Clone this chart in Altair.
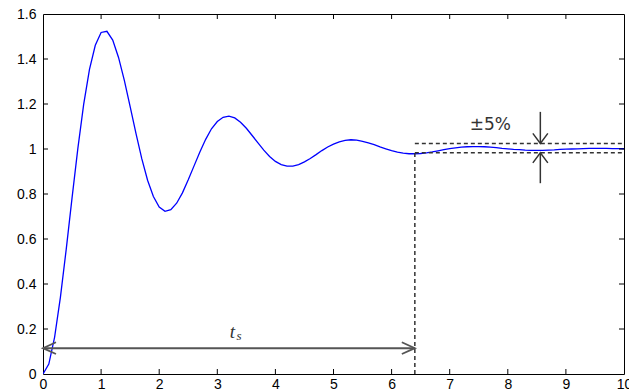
import altair as alt
import pandas as pd

# Step response of an under-damped second-order system
t_vals = [round(0.1 * i, 1) for i in range(101)]
y_vals = [
    0.000, 0.044, 0.164, 0.342, 0.555, 0.783, 1.003, 1.198, 1.354, 1.461,
    1.518, 1.523, 1.484, 1.407, 1.305, 1.188, 1.069, 0.957, 0.861, 0.789,
    0.742, 0.723, 0.730, 0.759, 0.805, 0.863, 0.925, 0.987, 1.043, 1.090,
    1.122, 1.141, 1.146, 1.138, 1.119, 1.092, 1.060, 1.027, 0.995, 0.967,
    0.945, 0.931, 0.924, 0.924, 0.931, 0.943, 0.958, 0.975, 0.993, 1.009,
    1.022, 1.032, 1.038, 1.041, 1.039, 1.034, 1.027, 1.019, 1.009, 1.001,
    0.993, 0.986, 0.982, 0.979, 0.979, 0.980, 0.983, 0.987, 0.992, 0.997,
    1.002, 1.005, 1.008, 1.010, 1.011, 1.011, 1.010, 1.008, 1.006, 1.003,
    1.001, 0.998, 0.997, 0.995, 0.994, 0.994, 0.994, 0.995, 0.996, 0.998,
    0.999, 1.000, 1.001, 1.002, 1.003, 1.003, 1.003, 1.003, 1.002, 1.002,
    1.001,
]

x_ticks = [0, 1, 2, 3, 4, 5, 6, 7, 8, 9, 10]
y_ticks = [0, 0.2, 0.4, 0.6, 0.8, 1.0, 1.2, 1.4, 1.6]
x_inner_ticks = [1, 2, 3, 4, 5, 6, 7, 8, 9]
y_inner_ticks = [0.2, 0.4, 0.6, 0.8, 1.0, 1.2, 1.4]

# Settling-time annotation
t_settle = 6.4
band_hi = 1.025
band_lo = 0.983
ts_arrow_y = 0.115
band_arrow_t = 8.56
arrow_down_from = 1.165
arrow_up_from = 0.848
band_label = "±5%"
band_label_pos = (7.7, 1.106)
ts_label_pos = (3.26, 0.185)

W, H = 581, 360
FONT = "Liberation Sans"

xs = alt.Scale(domain=[0, 10], nice=False, zero=False)
ys = alt.Scale(domain=[0, 1.6], nice=False, zero=False)

x_axis = alt.Axis(values=x_ticks, labelExpr="format(datum.value, '~r')",
                  ticks=False, tickSize=0,
                  labelPadding=3, labelFontSize=14, labelFont=FONT,
                  labelColor="#000", domain=False, grid=False,
                  labelFlush=False, labelOverlap=False, title=None)
y_axis = alt.Axis(values=y_ticks, labelExpr="format(datum.value, '~r')",
                  ticks=False, tickSize=0,
                  labelPadding=7, labelFontSize=14, labelFont=FONT,
                  labelColor="#000", domain=False, grid=False,
                  labelOverlap=False, title=None)


def X(field):
    return alt.X(field, type="quantitative", scale=xs, axis=x_axis)


def Y(field):
    return alt.Y(field, type="quantitative", scale=ys, axis=y_axis)


resp = pd.DataFrame({"t": t_vals, "y": y_vals})
line = alt.Chart(resp).mark_line(color="#0000ff", strokeWidth=1.3, clip=True).encode(
    x=X("t"), y=Y("y"))

# Inward tick marks on all four sides
xt = pd.DataFrame({"v": x_inner_ticks})
yt = pd.DataFrame({"v": y_inner_ticks})
tick_style = dict(color="#000", strokeWidth=1)
ticks_bottom = alt.Chart(xt).mark_rule(**tick_style).encode(
    x=X("v"), y=alt.value(H), y2=alt.value(H - 5))
ticks_top = alt.Chart(xt).mark_rule(**tick_style).encode(
    x=X("v"), y=alt.value(0), y2=alt.value(5))
ticks_left = alt.Chart(yt).mark_rule(**tick_style).encode(
    y=Y("v"), x=alt.value(0), x2=alt.value(5))
ticks_right = alt.Chart(yt).mark_rule(**tick_style).encode(
    y=Y("v"), x=alt.value(W), x2=alt.value(W - 5))

# Tolerance band lines and the settling-time marker
band = pd.DataFrame({"t0": [t_settle, t_settle], "t1": [10, 10], "y": [band_hi, band_lo]})
band_lines = alt.Chart(band).mark_rule(color="#333", strokeWidth=1.5, strokeDash=[4, 3]).encode(
    x=X("t0"), x2="t1:Q", y=Y("y"))

vline = alt.Chart(pd.DataFrame({"t": [t_settle], "y0": [0], "y1": [band_lo]})).mark_rule(
    color="#333", strokeWidth=1.5, strokeDash=[4, 3]).encode(
    x=X("t"), y=Y("y0"), y2="y1:Q")

# Double-headed arrow for t_s
ts_shaft = alt.Chart(pd.DataFrame({"a": [0], "b": [t_settle], "y": [ts_arrow_y]})).mark_rule(
    color="#555", strokeWidth=2).encode(
    x=X("a"), x2="b:Q", y=Y("y"))

chevron = "M-1,-0.45L0,0L-1,0.45"
ts_heads = alt.Chart(pd.DataFrame({"t": [0, t_settle], "y": [ts_arrow_y, ts_arrow_y],
                                   "ang": [180, 0]})).mark_point(
    shape=chevron, filled=False, color="#555", strokeWidth=1.8, size=676, opacity=1).encode(
    x=X("t"), y=Y("y"), angle=alt.Angle("ang:Q", scale=None))

# Arrows pointing at the tolerance band
band_shafts = alt.Chart(pd.DataFrame({"t": [band_arrow_t, band_arrow_t],
                                      "a": [arrow_down_from, arrow_up_from],
                                      "b": [band_hi, band_lo]})).mark_rule(
    color="#333", strokeWidth=1.5).encode(
    x=X("t"), y=Y("a"), y2="b:Q")

vchevron = "M-1,-0.75L0,0L-1,0.75"
band_heads = alt.Chart(pd.DataFrame({"t": [band_arrow_t, band_arrow_t],
                                     "y": [band_hi, band_lo], "ang": [90, 270]})).mark_point(
    shape=vchevron, filled=False, color="#333", strokeWidth=1.5, size=400, opacity=1).encode(
    x=X("t"), y=Y("y"), angle=alt.Angle("ang:Q", scale=None))

band_text = alt.Chart(pd.DataFrame({"t": [band_label_pos[0]], "y": [band_label_pos[1]],
                                    "s": [band_label]})).mark_text(
    font="DejaVu Sans", fontSize=17, color="#333", baseline="middle", align="center").encode(
    x=X("t"), y=Y("y"), text="s:N")

ts_t = alt.Chart(pd.DataFrame({"t": [ts_label_pos[0]], "y": [ts_label_pos[1]], "s": ["t"]})).mark_text(
    font="Liberation Serif", fontStyle="italic", fontSize=19, color="#333",
    baseline="middle", align="center").encode(
    x=X("t"), y=Y("y"), text="s:N")
ts_s = alt.Chart(pd.DataFrame({"t": [ts_label_pos[0]], "y": [ts_label_pos[1]], "s": ["s"]})).mark_text(
    font="Liberation Serif", fontStyle="italic", fontSize=13, color="#333",
    baseline="middle", align="left", dx=4, dy=4).encode(
    x=X("t"), y=Y("y"), text="s:N")

chart = alt.layer(
    line, band_lines, vline, ts_shaft, ts_heads, band_shafts, band_heads,
    band_text, ts_t, ts_s,
    ticks_bottom, ticks_top, ticks_left, ticks_right,
).properties(
    width=W, height=H,
    autosize=alt.AutoSizeParams(type="none"),
    padding={"left": 43, "top": 14, "right": 5, "bottom": 18},
    background="white",
).configure_view(stroke="#000", strokeWidth=1)

chart.save("out.html", embed_options={"renderer": "svg", "actions": False})
